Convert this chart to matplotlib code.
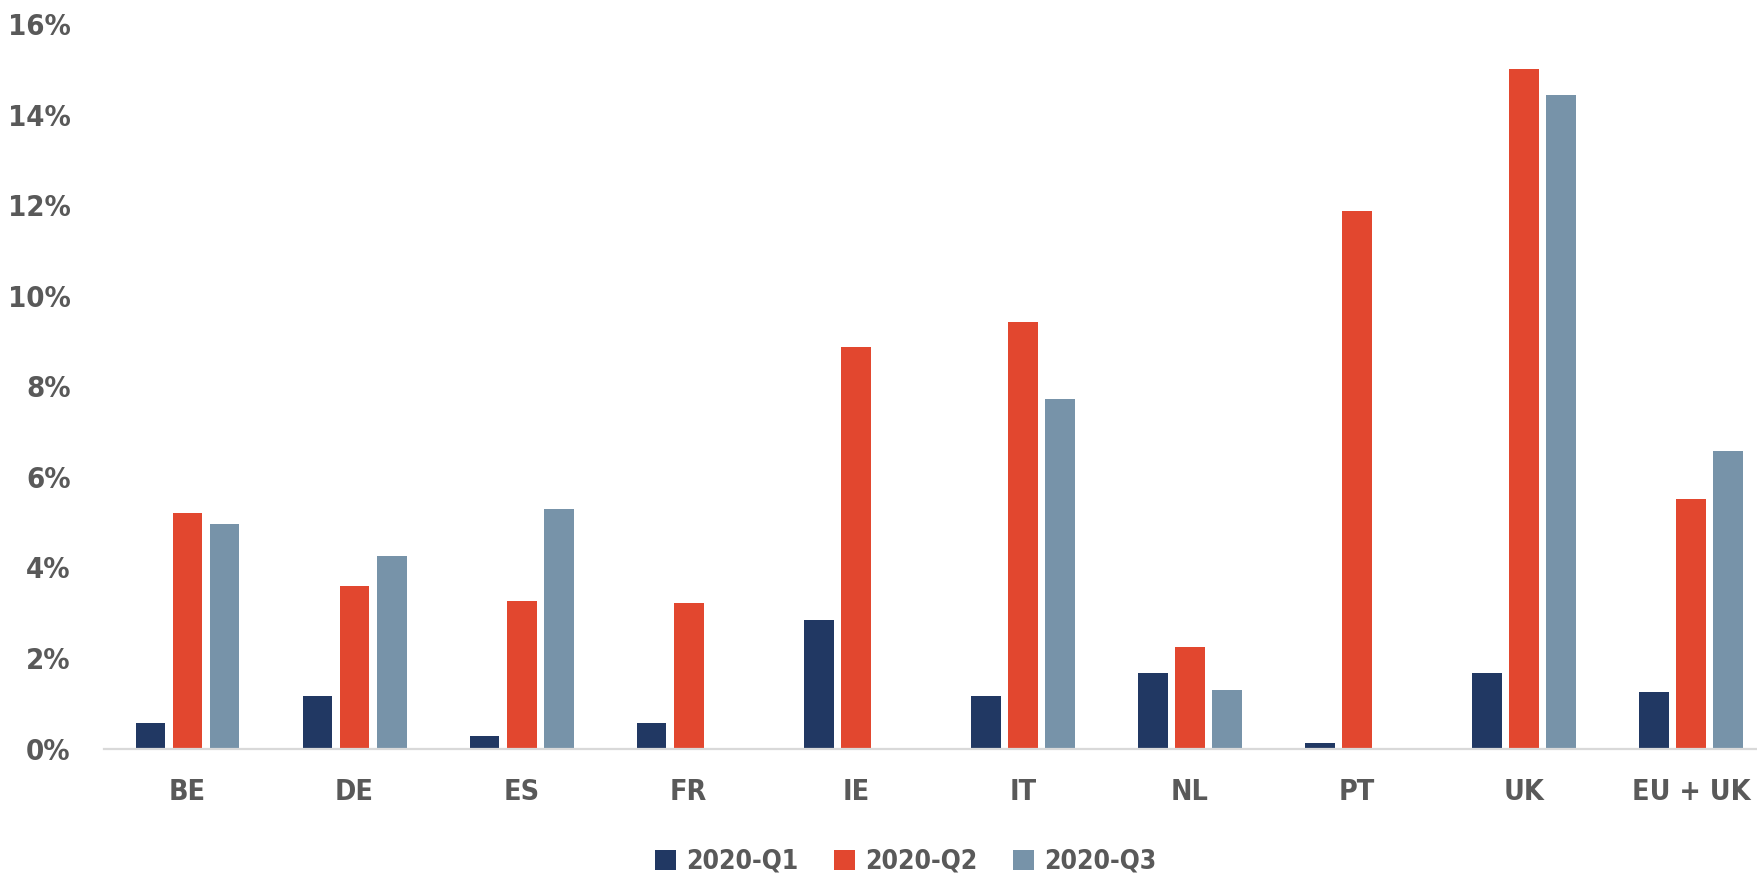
import numpy as np
import matplotlib
matplotlib.use("Agg")
import matplotlib.pyplot as plt

# unemployment-style shares by country, three quarters of 2020
countries = ["BE", "DE", "ES", "FR", "IE", "IT", "NL", "PT", "UK", "EU + UK"]
quarters = ["2020-Q1", "2020-Q2", "2020-Q3"]
q1 = [0.57, 1.16, 0.27, 0.57, 2.85, 1.16, 1.68, 0.12, 1.66, 1.25]
q2 = [5.20, 3.59, 3.27, 3.22, 8.86, 9.43, 2.25, 11.88, 15.00, 5.52]
q3 = [4.95, 4.26, 5.30, 0.0, 0.0, 7.72, 1.29, 0.0, 14.43, 6.58]
yticks = [0, 2, 4, 6, 8, 10, 12, 14, 16]

colors = ["#213863", "#E2472F", "#7793A9"]
grey = "#595959"

plt.rcParams["font.family"] = ["DejaVu Sans"]
plt.rcParams["font.stretch"] = "condensed"
plt.rcParams["font.weight"] = "bold"

fig = plt.figure(figsize=(17.57, 8.73), dpi=100)
ax = fig.add_axes([0.0592, 0.1424, 0.9408, 0.8302])

x = np.arange(len(countries))
width = 0.178
step = 0.222
for i, (vals, lab) in enumerate(zip([q1, q2, q3], quarters)):
    ax.bar(x + (i - 1) * step, vals, width, color=colors[i], label=lab, zorder=2)

ax.set_xlim(-0.5, 9.395)
ax.set_ylim(0, 16)
ax.set_yticks(yticks)
ax.set_yticklabels([f"{t}%" for t in yticks])
ax.set_xticks(x)
ax.set_xticklabels(countries)

for s in ["top", "right", "left"]:
    ax.spines[s].set_visible(False)
ax.spines["bottom"].set_color("#D9D9D9")
ax.spines["bottom"].set_linewidth(1.6)

ax.tick_params(axis="y", length=0, pad=24, labelsize=21, labelcolor=grey)
ax.tick_params(axis="x", length=0, pad=21, labelsize=20.5, labelcolor=grey)

leg = fig.legend(loc="center", bbox_to_anchor=(906 / 1757, 11 / 873),
                 ncol=3, frameon=False, fontsize=19,
                 handlelength=0.8, handleheight=0.8, handletextpad=0.38,
                 columnspacing=1.35, borderpad=0)
for t in leg.get_texts():
    t.set_color(grey)

fig.savefig("out.png", dpi=100)
